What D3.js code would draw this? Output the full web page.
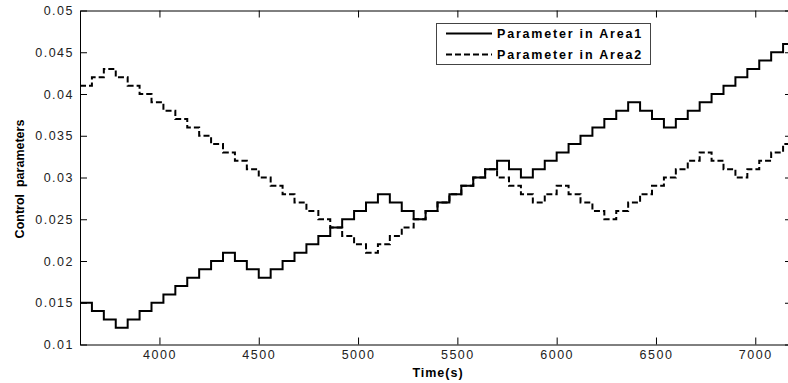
<!DOCTYPE html>
<html>
<head>
<meta charset="utf-8">
<script src="https://cdn.jsdelivr.net/npm/d3@7"></script>
<style>
  body { margin: 0; background: #fff; }
  svg { display: block; font-family: Arial, "Liberation Sans", sans-serif; }
  .tick text { font-size: 12.5px; fill: #222; letter-spacing: 1.5px; }
  .tick line, .domain { stroke: #000; }
</style>
</head>
<body>
<svg></svg>
<script>
const width = 788;
const height = 383;

// step times: one value every 60 s from 3600 s
const startTime = 3600;
const stepSeconds = 60;

const area1 = [
  0.015, 0.014, 0.013, 0.012, 0.013, 0.014, 0.015, 0.016, 0.017, 0.018,
  0.019, 0.020, 0.021, 0.020, 0.019, 0.018, 0.019, 0.020, 0.021, 0.022,
  0.023, 0.024, 0.025, 0.026, 0.027, 0.028, 0.027, 0.026, 0.025, 0.026,
  0.027, 0.028, 0.029, 0.030, 0.031, 0.032, 0.031, 0.030, 0.031, 0.032,
  0.033, 0.034, 0.035, 0.036, 0.037, 0.038, 0.039, 0.038, 0.037, 0.036,
  0.037, 0.038, 0.039, 0.040, 0.041, 0.042, 0.043, 0.044, 0.045, 0.046
];

const area2 = [
  0.041, 0.042, 0.043, 0.042, 0.041, 0.040, 0.039, 0.038, 0.037, 0.036,
  0.035, 0.034, 0.033, 0.032, 0.031, 0.030, 0.029, 0.028, 0.027, 0.026,
  0.025, 0.024, 0.023, 0.022, 0.021, 0.022, 0.023, 0.024, 0.025, 0.026,
  0.027, 0.028, 0.029, 0.030, 0.031, 0.030, 0.029, 0.028, 0.027, 0.028,
  0.029, 0.028, 0.027, 0.026, 0.025, 0.026, 0.027, 0.028, 0.029, 0.030,
  0.031, 0.032, 0.033, 0.032, 0.031, 0.030, 0.031, 0.032, 0.033, 0.034
];

const xTicks = [4000, 4500, 5000, 5500, 6000, 6500, 7000];
const yTicks = [0.01, 0.015, 0.02, 0.025, 0.03, 0.035, 0.04, 0.045, 0.05];
const yTickLabels = ['0.01', '0.015', '0.02', '0.025', '0.03', '0.035', '0.04', '0.045', '0.05'];
const seriesNames = ['Parameter in Area1', 'Parameter in Area2'];

const plot = { left: 80, top: 10.5, right: 795, bottom: 344.5 };

const svg = d3.select('svg')
  .attr('width', width)
  .attr('height', height);

const xScale = d3.scaleLinear()
  .domain([3600, 7200])
  .range([plot.left, plot.right]);

const yScale = d3.scaleLinear()
  .domain([0.01, 0.05])
  .range([plot.bottom, plot.top]);

// turn a value list into stair points (last value held to the end)
const toPoints = values => {
  const pts = values.map((v, i) => [startTime + i * stepSeconds, v]);
  pts.push([startTime + values.length * stepSeconds, values[values.length - 1]]);
  return pts;
};

const line = d3.line()
  .x(d => xScale(d[0]))
  .y(d => yScale(d[1]))
  .curve(d3.curveStepAfter);

// axes box
svg.append('g')
  .attr('transform', `translate(0, ${plot.bottom})`)
  .call(d3.axisBottom(xScale).tickValues(xTicks).tickSizeInner(-7).tickSizeOuter(0).tickPadding(6)
    .tickFormat(d3.format('d')));

svg.append('g')
  .attr('transform', `translate(0, ${plot.top})`)
  .call(d3.axisTop(xScale).tickValues(xTicks).tickSizeInner(-7).tickSizeOuter(0).tickFormat(''));

svg.append('g')
  .attr('transform', `translate(${plot.left}, 0)`)
  .call(d3.axisLeft(yScale).tickValues(yTicks).tickSizeInner(-7).tickSizeOuter(0).tickPadding(6)
    .tickFormat((d, i) => yTickLabels[i]));

svg.append('g')
  .attr('transform', `translate(${plot.right}, 0)`)
  .call(d3.axisRight(yScale).tickValues(yTicks).tickSizeInner(-10).tickSizeOuter(0).tickFormat(''));

svg.selectAll('.tick line').attr('stroke', '#000');

// series
svg.append('path')
  .attr('d', line(toPoints(area1)))
  .attr('fill', 'none')
  .attr('stroke', '#000')
  .attr('stroke-width', 2);

svg.append('path')
  .attr('d', line(toPoints(area2)))
  .attr('fill', 'none')
  .attr('stroke', '#000')
  .attr('stroke-width', 2)
  .attr('stroke-dasharray', '6,3');

// axis titles
svg.append('text')
  .attr('x', 438)
  .attr('y', 377)
  .attr('text-anchor', 'middle')
  .attr('font-size', 12.5)
  .attr('font-weight', 'bold')
  .attr('letter-spacing', 1)
  .text('Time(s)');

svg.append('text')
  .attr('transform', 'translate(23.5, 179) rotate(-90)')
  .attr('text-anchor', 'middle')
  .attr('font-size', 12.5)
  .attr('font-weight', 'bold')
  .attr('xml:space', 'preserve')
  .style('white-space', 'pre')
  .text('Control  parameters');

// legend
const legend = svg.append('g');
legend.append('rect')
  .attr('x', 436.5)
  .attr('y', 23.5)
  .attr('width', 214)
  .attr('height', 41)
  .attr('fill', '#fff')
  .attr('stroke', '#444');

seriesNames.forEach((name, i) => {
  const ly = 33.5 + i * 21;
  legend.append('line')
    .attr('x1', 446).attr('x2', 492)
    .attr('y1', ly).attr('y2', ly)
    .attr('stroke', '#000')
    .attr('stroke-width', 2)
    .attr('stroke-dasharray', i === 1 ? '6,3' : null);
  legend.append('text')
    .attr('x', 497)
    .attr('y', ly + 4.5)
    .attr('font-size', 12.5)
    .attr('font-weight', 'bold')
    .attr('letter-spacing', 1.8)
    .text(name);
});
</script>
</body>
</html>
